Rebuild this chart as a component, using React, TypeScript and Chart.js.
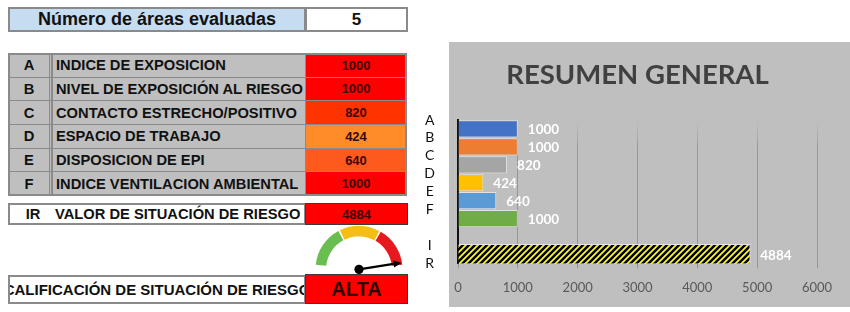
import React, { useEffect, useRef } from 'react';
import { Chart, registerables } from 'chart.js';

Chart.register(...registerables);

// ---------- data ----------
const areasEvaluatedLabel = 'Número de áreas evaluadas';
const areasEvaluated = 5;
const categories = ['A', 'B', 'C', 'D', 'E', 'F'];
const areaNames = [
  'INDICE DE EXPOSICION',
  'NIVEL DE EXPOSICIÓN AL RIESGO',
  'CONTACTO ESTRECHO/POSITIVO',
  'ESPACIO DE TRABAJO',
  'DISPOSICION DE EPI',
  'INDICE VENTILACION AMBIENTAL',
];
const areaValues = [1000, 1000, 820, 424, 640, 1000];
const irCode = 'IR';
const irName = 'VALOR DE SITUACIÓN DE RIESGO';
const irValue = 4884;
const ratingName = 'CALIFICACIÓN DE SITUACIÓN DE RIESGO';
const ratingValue = 'ALTA';
const chartTitle = 'RESUMEN GENERAL';
const axisLetters = ['A', 'B', 'C', 'D', 'E', 'F', '', 'I', 'R'];
const xMin = 0;
const xMax = 6000;
const xStep = 1000;
const gaugeBands = [1700, 1650, 1650];
const gaugeBandNames = ['BAJA', 'MEDIA', 'ALTA'];

// ---------- styles ----------
const barColors = ['#4472C4', '#ED7D31', '#A5A5A5', '#FFC000', '#5B9BD5', '#70AD47'];
const valueCellColors = ['#FF0000', '#FF0000', '#FF3300', '#FF8C28', '#FF5A1E', '#FF0000'];
const gaugeColors = ['#6ABE50', '#F5BE14', '#E6191E'];
const TABLE_FONT = '"Liberation Sans", Arial, sans-serif';

function makeHatch(ctx: CanvasRenderingContext2D) {
  const s = 6;
  const c = document.createElement('canvas');
  c.width = s;
  c.height = s;
  const g = c.getContext('2d')!;
  g.fillStyle = '#FFFF10';
  g.fillRect(0, 0, s, s);
  g.strokeStyle = '#000';
  g.lineWidth = 2.5;
  g.beginPath();
  g.moveTo(0, s); g.lineTo(s, 0);
  g.moveTo(-s / 2, s / 2); g.lineTo(s / 2, -s / 2);
  g.moveTo(s / 2, s * 1.5); g.lineTo(s * 1.5, s / 2);
  g.stroke();
  return ctx.createPattern(c, 'repeat');
}

const panelBg = {
  id: 'panelBg',
  beforeDraw(chart: any) {
    const { ctx, width } = chart;
    ctx.save();
    ctx.fillStyle = '#BFBFBF';
    ctx.fillRect(29, 42, width - 29, 265);
    ctx.restore();
  },
};

const valueLabels = {
  id: 'valueLabels',
  afterDatasetsDraw(chart: any) {
    const { ctx } = chart;
    ctx.save();
    ctx.font = 'bold 13.5px Lato';
    ctx.fillStyle = '#FFFFFF';
    ctx.textBaseline = 'middle';
    ctx.textAlign = 'left';
    chart.data.datasets.forEach((ds: any, di: number) => {
      const meta = chart.getDatasetMeta(di);
      meta.data.forEach((el: any, i: number) => {
        const v = ds.data[i];
        if (v == null) return;
        ctx.fillText(String(v), el.x + 10, el.y + 1);
      });
    });
    ctx.restore();
  },
};

const needle = {
  id: 'needle',
  afterDatasetsDraw(chart: any) {
    const arc = chart.getDatasetMeta(0).data[0];
    if (!arc) return;
    const { ctx } = chart;
    const { x, y, outerRadius } = arc;
    const opts = chart.options;
    const start = ((opts.rotation - 90) * Math.PI) / 180;
    const span = (opts.circumference * Math.PI) / 180;
    const total = gaugeBands.reduce((a, b) => a + b, 0);
    const a = start + span * Math.min(irValue / total, 1);
    const len = outerRadius + 1;
    const tx = x + Math.cos(a) * len;
    const ty = y + Math.sin(a) * len;
    const head = 8;
    const bx = tx - Math.cos(a) * head;
    const by = ty - Math.sin(a) * head;
    ctx.save();
    ctx.strokeStyle = '#000';
    ctx.fillStyle = '#000';
    ctx.lineWidth = 2.2;
    ctx.beginPath();
    ctx.moveTo(x, y);
    ctx.lineTo(bx, by);
    ctx.stroke();
    const nx = -Math.sin(a) * 3.6;
    const ny = Math.cos(a) * 3.6;
    ctx.beginPath();
    ctx.moveTo(tx, ty);
    ctx.lineTo(bx + nx, by + ny);
    ctx.lineTo(bx - nx, by - ny);
    ctx.closePath();
    ctx.fill();
    ctx.beginPath();
    ctx.arc(x, y, 4.6, 0, Math.PI * 2);
    ctx.fill();
    ctx.restore();
  },
};

const gridColor = (c: any) => {
  const chart = c.chart;
  const area = chart.chartArea;
  if (!area) return '#A0A0A0';
  const g = chart.ctx.createLinearGradient(0, area.top, 0, area.top + 28);
  g.addColorStop(0, 'rgba(160,160,160,0)');
  g.addColorStop(1, 'rgba(150,150,150,1)');
  return g;
};

function Cell(props: { l: number; t: number; w: number; h: number; style?: React.CSSProperties; children?: React.ReactNode }) {
  const { l, t, w, h, style, children } = props;
  return (
    <div
      style={{
        position: 'absolute',
        left: l,
        top: t,
        width: w,
        height: h,
        boxSizing: 'border-box',
        display: 'flex',
        alignItems: 'center',
        fontFamily: TABLE_FONT,
        fontWeight: 'bold',
        color: '#111',
        whiteSpace: 'nowrap',
        overflow: 'hidden',
        ...style,
      }}
    >
      {children}
    </div>
  );
}

export default function App() {
  const barRef = useRef<HTMLCanvasElement>(null);
  const gaugeRef = useRef<HTMLCanvasElement>(null);

  useEffect(() => {
    const bctx = barRef.current!.getContext('2d')!;
    const hatch = makeHatch(bctx);
    const labels = [...categories, '', irCode];
    const bar = new Chart(bctx, {
      type: 'bar',
      data: {
        labels,
        datasets: [
          {
            data: [...areaValues, null, null],
            backgroundColor: barColors,
            borderColor: 'rgba(255,255,255,0.55)',
            borderWidth: 1,
            barPercentage: 0.96,
            categoryPercentage: 1,
            grouped: false,
          } as any,
          {
            data: [...areaValues.map(() => null), null, irValue],
            backgroundColor: hatch as any,
            borderColor: 'rgba(255,255,255,0.6)',
            borderWidth: 1,
            barThickness: 20,
            grouped: false,
          } as any,
        ],
      },
      options: {
        animation: false,
        responsive: false,
        indexAxis: 'y',
        layout: { padding: { top: 42, right: 33, bottom: 4, left: 0 } },
        plugins: {
          legend: { display: false },
          tooltip: { enabled: false },
          title: {
            display: true,
            text: chartTitle,
            fullSize: false,
            color: '#404040',
            font: { family: 'Lato', size: 27.5, weight: 'bold', lineHeight: 1.2 },
            padding: { top: 16.5, bottom: 28.5 },
          },
        },
        scales: {
          x: {
            type: 'linear',
            min: xMin,
            max: xMax,
            ticks: {
              stepSize: xStep,
              color: '#595959',
              font: { family: 'Lato', size: 13 },
              padding: 12,
              callback: (v: any) => String(v),
            },
            grid: { color: gridColor as any, lineWidth: 1, drawTicks: true, tickLength: 5 },
            border: { display: false },
          },
          y: {
            type: 'category',
            display: false,
            offset: true,
            grid: { display: false },
          },
          y2: {
            type: 'category',
            position: 'left',
            labels: axisLetters,
            offset: false,
            grid: { display: false, drawTicks: false },
            border: { display: true, color: '#111', width: 2 },
            ticks: {
              color: '#111',
              font: { family: 'Lato', size: 14 },
              padding: 23,
              crossAlign: 'center',
              autoSkip: false,
            },
            afterFit: (s: any) => {
              s.width = 38;
            },
          } as any,
        },
      },
      plugins: [panelBg, valueLabels],
    });

    const gauge = new Chart(gaugeRef.current!, {
      type: 'doughnut',
      data: {
        labels: gaugeBandNames,
        datasets: [
          {
            data: gaugeBands,
            backgroundColor: gaugeColors,
            borderWidth: 0,
            spacing: 3,
          } as any,
        ],
      },
      options: {
        animation: false,
        responsive: false,
        rotation: -85,
        circumference: 170,
        radius: 42,
        cutout: '75%',
        layout: { padding: 0 },
        plugins: { legend: { display: false }, tooltip: { enabled: false } },
      } as any,
      plugins: [needle],
    });

    return () => {
      bar.destroy();
      gauge.destroy();
    };
  }, []);

  const rowTop = 53;
  const rowH = 23.67;
  const gray = '#8A8A8A';

  return (
    <div style={{ position: 'absolute', left: 0, top: 0, width: 850, height: 312, overflow: 'hidden', background: '#fff' }}>
      {/* header */}
      <Cell l={8} t={7} w={298} h={25} style={{ background: '#C6DCF0', border: `2px solid ${gray}`, justifyContent: 'center', fontSize: 18 }}>
        {areasEvaluatedLabel}
      </Cell>
      <Cell l={305} t={7} w={103} h={25} style={{ background: '#fff', border: `2px solid ${gray}`, justifyContent: 'center', fontSize: 17 }}>
        {areasEvaluated}
      </Cell>

      {/* main table */}
      {categories.map((c, i) => {
        const t = rowTop + i * rowH;
        return (
          <React.Fragment key={c}>
            <Cell l={8} t={t} w={44} h={rowH + 1} style={{ background: '#BFBFBF', border: `1px solid ${gray}`, borderRight: `3px double ${gray}`, justifyContent: 'center', fontSize: 14.7 }}>
              {c}
            </Cell>
            <Cell l={52} t={t} w={254} h={rowH + 1} style={{ background: '#BFBFBF', border: `1px solid ${gray}`, paddingLeft: 3, fontSize: 14.7 }}>
              {areaNames[i]}
            </Cell>
            <Cell l={305} t={t} w={102} h={rowH + 1} style={{ background: valueCellColors[i], border: `1px solid ${gray}`, justifyContent: 'center', fontSize: 13, color: '#3A0808' }}>
              {areaValues[i]}
            </Cell>
          </React.Fragment>
        );
      })}
      <div style={{ position: 'absolute', left: 8, top: rowTop, width: 399, height: rowH * 6 + 1, boxSizing: 'border-box', border: `2px solid ${gray}` }} />

      {/* IR row */}
      <Cell l={8} t={203} w={298} h={22} style={{ background: '#fff', border: `2px solid ${gray}`, fontSize: 14.7 }}>
        <span style={{ position: 'absolute', left: 10, width: 26, textAlign: 'center' }}>{irCode}</span>
        <span style={{ position: 'absolute', left: 45 }}>{irName}</span>
      </Cell>
      <Cell l={305} t={203} w={103} h={22} style={{ background: '#FF0000', border: '1.5px solid #3A3A3A', justifyContent: 'center', fontSize: 13, color: '#3A0808' }}>
        {irValue}
      </Cell>

      {/* gauge */}
      <canvas ref={gaugeRef} width={100} height={56} style={{ position: 'absolute', left: 309, top: 219, width: 100, height: 56 }} />

      {/* rating row */}
      <Cell l={8} t={275} w={298} h={29} style={{ background: '#fff', border: `2px solid ${gray}`, justifyContent: 'center', fontSize: 15 }}>
        {ratingName}
      </Cell>
      <Cell l={305} t={274} w={103} h={30} style={{ background: '#FF0000', border: '1.5px solid #3A3A3A', justifyContent: 'center', fontSize: 20, color: '#2A0606' }}>
        {ratingValue}
      </Cell>

      {/* chart */}
      <canvas ref={barRef} width={430} height={312} style={{ position: 'absolute', left: 420, top: 0, width: 430, height: 312 }} />
    </div>
  );
}
